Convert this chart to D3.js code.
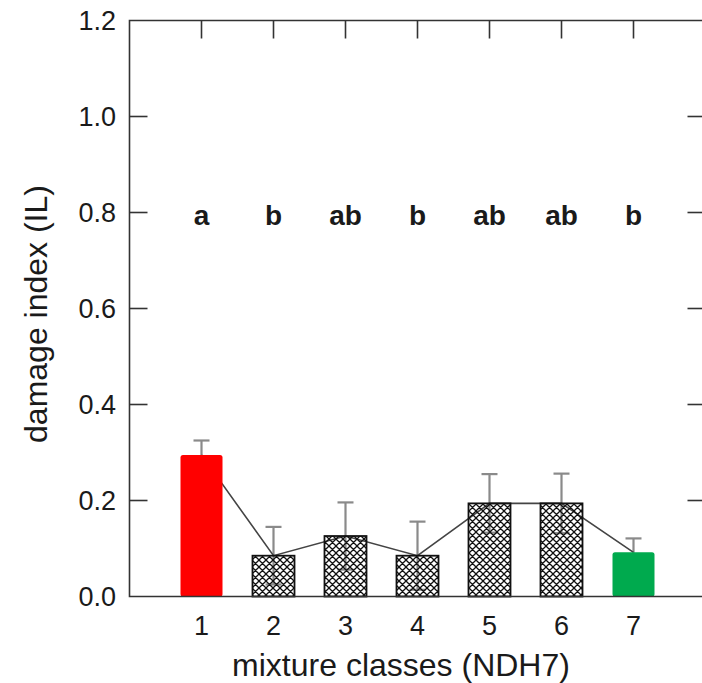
<!DOCTYPE html>
<html><head><meta charset="utf-8">
<script src="https://cdn.jsdelivr.net/npm/d3@7"></script>
<style>body{margin:0;background:#fff}svg{display:block}text{font-family:"Liberation Sans",Arial,sans-serif;fill:#1a1a1a}</style>
</head><body>
<script>
const categories = [1,2,3,4,5,6,7];
const values = [0.295, 0.085, 0.126, 0.085, 0.194, 0.194, 0.092];
const errors = [0.030, 0.060, 0.070, 0.071, 0.061, 0.062, 0.029];
const letters = ["a","b","ab","b","ab","ab","b"];
const fills = ["red","hatch","hatch","hatch","hatch","hatch","green"];
const yTicks = [0,0.2,0.4,0.6,0.8,1.0,1.2];

const W=702,H=683;
const svg=d3.select("body").append("svg").attr("width",W).attr("height",H);
const x=d3.scaleLinear().domain([0,8]).range([129.5,705.5]);
const y=d3.scaleLinear().domain([0,1.2]).range([596.5,20.5]);

const defs=svg.append("defs");
const pat=defs.append("pattern").attr("id","hatch").attr("patternUnits","userSpaceOnUse")
  .attr("width",7).attr("height",7);
pat.append("path").attr("d","M0,0L7,7M7,0L0,7M-1,6L1,8M6,-1L8,1M-1,1L1,-1M6,8L8,6")
  .attr("stroke","#111").attr("stroke-width",1.3);

const bw=42, cap=16;
const eg=svg.append("g").attr("stroke","#8a8a8a").attr("stroke-width",2.2);
categories.forEach((c,i)=>{
  const cx=x(c), lo=y(values[i]-errors[i]), hi=y(values[i]+errors[i]);
  eg.append("line").attr("x1",cx).attr("x2",cx).attr("y1",lo).attr("y2",hi);
  eg.append("line").attr("x1",cx-cap/2).attr("x2",cx+cap/2).attr("y1",hi).attr("y2",hi);
  eg.append("line").attr("x1",cx-cap/2).attr("x2",cx+cap/2).attr("y1",lo).attr("y2",lo);
});
svg.append("path").datum(categories.map((c,i)=>[x(c),y(values[i])]))
  .attr("d",d3.line()).attr("fill","none").attr("stroke","#444").attr("stroke-width",1.6);
categories.forEach((c,i)=>{
  const f=fills[i];
  const r=svg.append("rect").attr("x",x(c)-bw/2).attr("width",bw)
    .attr("y",y(values[i])).attr("height",y(0)-y(values[i]));
  if(f==="hatch") r.attr("fill","url(#hatch)").attr("stroke","#111").attr("stroke-width",1.8);
  else r.attr("fill",f==="red"?"#ff0000":"#00aa4e").attr("rx",2.5);
});
const ax=svg.append("g").attr("stroke","#333").attr("stroke-width",1.6).attr("fill","none");
ax.append("path").attr("d",`M${x(8)},${y(1.2)}H${x(0)}V${y(0)}H${x(8)}V${y(1.2)}`);
yTicks.slice(1,-1).forEach(t=>{
  ax.append("line").attr("x1",x(0)).attr("x2",x(0)+18).attr("y1",y(t)).attr("y2",y(t));
  ax.append("line").attr("x1",x(8)).attr("x2",x(8)-18).attr("y1",y(t)).attr("y2",y(t));
});
categories.forEach(c=>{
  ax.append("line").attr("x1",x(c)).attr("x2",x(c)).attr("y1",y(1.2)).attr("y2",y(1.2)+18);
});
svg.append("g").selectAll("text").data(yTicks).join("text")
  .attr("x",116).attr("y",d=>y(d)).attr("dy","0.36em").attr("text-anchor","end")
  .attr("font-size",27).text(d=>d3.format(".1f")(d));
svg.append("g").selectAll("text").data(categories).join("text")
  .attr("x",d=>x(d)).attr("y",635).attr("text-anchor","middle")
  .attr("font-size",27).text(d=>d);
svg.append("g").selectAll("text").data(letters).join("text")
  .attr("x",(d,i)=>x(categories[i])).attr("y",225).attr("text-anchor","middle")
  .attr("font-size",28).attr("font-weight","bold").text(d=>d);
svg.append("text").attr("x",401).attr("y",676).attr("text-anchor","middle")
  .attr("font-size",32).text("mixture classes (NDH7)");
svg.append("text").attr("transform","translate(47,314) rotate(-90)").attr("text-anchor","middle")
  .attr("font-size",32).text("damage index (IL)");
</script>
</body></html>
